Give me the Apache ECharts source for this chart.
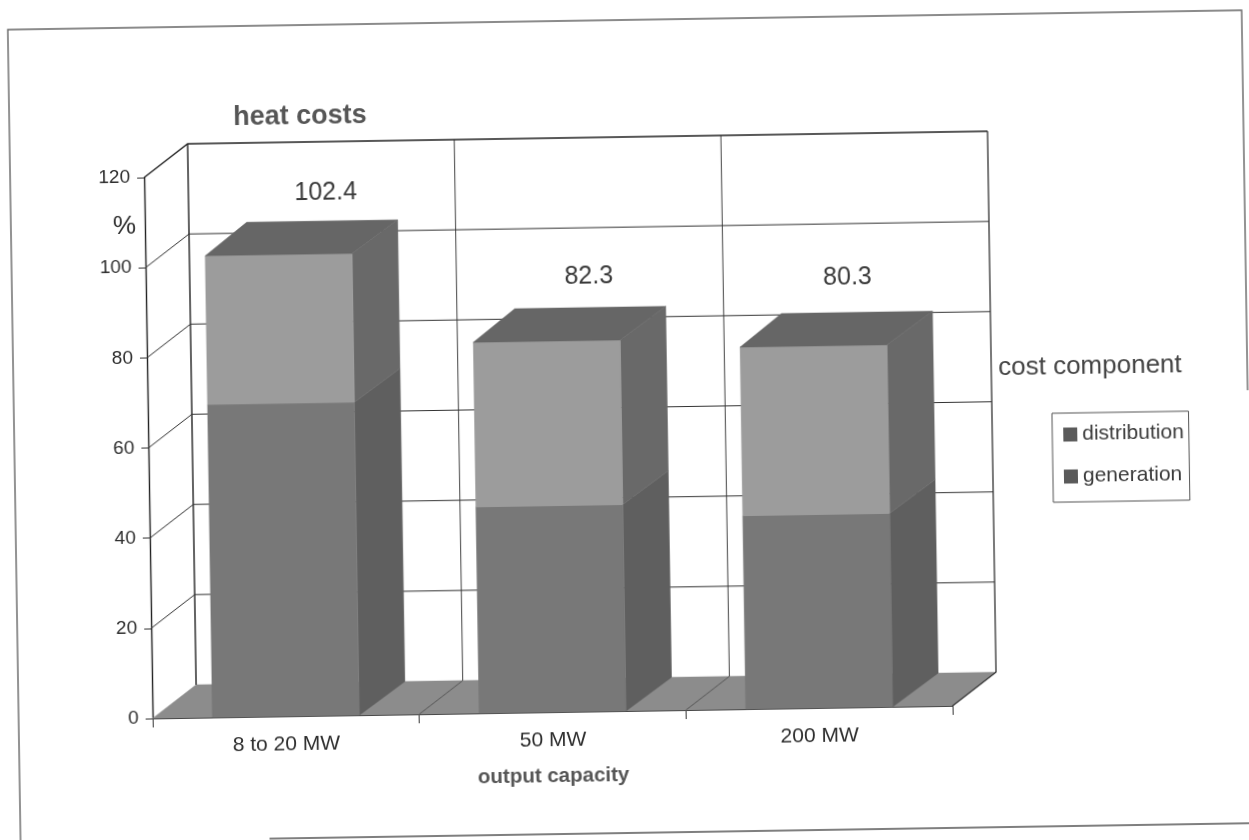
<!DOCTYPE html>
<html>
<head>
<meta charset="utf-8">
<title>heat costs</title>
<style>
html,body{margin:0;padding:0;background:#fff;width:1249px;height:840px;overflow:hidden}
#chart{position:absolute;left:0;top:0;width:1300px;height:900px;transform-origin:624.5px 420px;transform:rotate(-0.9deg)}
</style>
<script src="https://cdn.jsdelivr.net/npm/echarts@6/dist/echarts.min.js"></script>
</head>
<body>
<div id="chart"></div>
<script>
const categories = ['8 to 20 MW', '50 MW', '200 MW'];
const generation = [69.4, 45.8, 42.9];
const distribution = [33.0, 36.5, 37.4];
const totals = ['102.4', '82.3', '80.3'];
const yTicks = [0, 20, 40, 60, 80, 100, 120];

const DX = 44, DY = -33, BAR_DX = 46;
const LABEL_SHIFT_X = [48, 43, 35];
const LABEL_SHIFT_Y = [-61, -64, -68];
const FONT = '"Liberation Sans", Arial, sans-serif';
const INK = '#2e2e2e';
const GREY = '#565656';
const COLORS = {
  generation: { front: '#787878', side: '#5f5f5f' },
  distribution: { front: '#9c9c9c', side: '#696969', top: '#666666' },
  floor: '#8c8c8c', legendIcon: '#5a5a5a'
};

function poly(points, fill) {
  return { type: 'polygon', shape: { points: points }, style: { fill: fill, stroke: fill, lineWidth: 0.5 } };
}
function line(p, stroke, w) {
  return { type: 'polyline', shape: { points: p }, style: { fill: 'none', stroke: stroke, lineWidth: w } };
}

function renderGrid(params, api) {
  const v = api.value(0);
  const cs = params.coordSys;
  const y = api.coord([0, v])[1];
  if (v === 0) return { type: 'group', children: [] };
  return line([[cs.x, y], [cs.x + DX, y + DY], [cs.x + cs.width + DX, y + DY]], v === 120 ? '#222' : '#333', v === 120 ? 1.4 : 1);
}

function renderFloor(params, api) {
  const cs = params.coordSys;
  const i = api.value(0);
  const band = cs.width / categories.length;
  const x0 = cs.x + band * i, x1 = x0 + band;
  const y0 = cs.y + cs.height;
  const top = cs.y;
  const kids = [
    poly([[x0, y0], [x1, y0], [x1 + DX, y0 + DY], [x0 + DX, y0 + DY]], COLORS.floor),
    line([[x0 + DX, y0 + DY], [x0 + DX, top + DY]], i === 0 ? '#222' : '#444', i === 0 ? 1.4 : 1)
  ];
  if (i > 0) kids.push(line([[x0, y0], [x0 + DX, y0 + DY]], '#555', 1));
  if (i === categories.length - 1) {
    kids.push(line([[x1 + DX, top + DY], [x1 + DX, y0 + DY], [x1, y0]], '#333', 1.3));
  }
  return { type: 'group', children: kids };
}

function renderBar(key) {
  return function (params, api) {
    const i = api.value(0);
    const start = api.coord([i, api.value(1)]);
    const end = api.coord([i, api.value(2)]);
    const w = api.size([1, 0])[0] * 0.551;
    const l = start[0] - w / 2, r = start[0] + w / 2;
    const yb = start[1], yt = end[1];
    const c = COLORS[key];
    const kids = [
      poly([[r, yb], [r + BAR_DX, yb + DY], [r + BAR_DX, yt + DY], [r, yt]], c.side),
      poly([[l, yb], [r, yb], [r, yt], [l, yt]], c.front)
    ];
    if (key === 'distribution') {
      kids.push(poly([[l, yt], [r, yt], [r + BAR_DX, yt + DY], [l + BAR_DX - 4, yt + DY]], c.top));
      kids.push({
        type: 'text',
        style: {
          text: totals[i], x: start[0] + LABEL_SHIFT_X[i], y: yt + LABEL_SHIFT_Y[i],
          textAlign: 'center', textVerticalAlign: 'middle',
          font: '25px ' + FONT, fill: '#3a3a3a'
        }
      });
    }
    return { type: 'group', children: kids };
  };
}

function barRows(base, values) {
  return values.map(function (v, i) { return [i, base[i], +(base[i] + v).toFixed(1)]; });
}

const chart = echarts.init(document.getElementById('chart'), null, { renderer: 'canvas' });
chart.setOption({
  animation: false,
  backgroundColor: '#fff',
  title: [
    { text: 'heat costs', left: 238, top: 98, padding: 0, textStyle: { fontFamily: FONT, fontSize: 27, fontWeight: 'bold', color: GREY } },
    { text: 'cost component', left: 999, top: 361, padding: 0, textStyle: { fontFamily: FONT, fontSize: 26, fontWeight: 'normal', color: '#444' } },
    { text: '%', left: 116, top: 206, padding: 0, textStyle: { fontFamily: FONT, fontSize: 26, fontWeight: 'normal', color: INK } }
  ],
  grid: { left: 148, top: 170, width: 800, height: 541 },
  legend: {
    left: 1052, top: 420, orient: 'vertical', align: 'left',
    data: [
      { name: 'distribution', itemStyle: { color: COLORS.legendIcon } },
      { name: 'generation', itemStyle: { color: COLORS.legendIcon } }
    ],
    icon: 'rect', itemWidth: 14, itemHeight: 14, itemGap: 21,
    padding: [11, 5, 15, 11],
    borderColor: '#555', borderWidth: 1,
    textStyle: { fontFamily: FONT, fontSize: 21, color: '#3a3a3a' }
  },
  xAxis: {
    type: 'category', data: categories,
    axisLine: { lineStyle: { color: '#333', width: 1 } },
    axisTick: { show: true, length: 9, lineStyle: { color: '#333' } },
    axisLabel: { margin: 18, fontFamily: FONT, fontSize: 21, color: INK },
    name: 'output capacity', nameLocation: 'middle', nameGap: 54,
    nameTextStyle: { fontFamily: FONT, fontSize: 20.5, fontWeight: 'bold', color: GREY }
  },
  yAxis: {
    type: 'value', min: 0, max: 120, interval: 20,
    axisLine: { show: true, lineStyle: { color: '#222', width: 1.4 } },
    axisTick: { show: true, length: 7, lineStyle: { color: '#333' } },
    axisLabel: { margin: 14, fontFamily: FONT, fontSize: 19, color: INK },
    splitLine: { show: false }
  },
  series: [
    { type: 'custom', name: 'floor', z: 1, silent: true, data: categories.map(function (c, i) { return [i]; }), encode: { x: 0 }, renderItem: renderFloor },
    { type: 'custom', name: 'grid', z: 2, silent: true, data: yTicks.map(function (t) { return [t]; }), encode: { y: 0 }, renderItem: renderGrid },
    { type: 'custom', name: 'generation', z: 3, itemStyle: { color: COLORS.generation.front },
      data: barRows(categories.map(function () { return 0; }), generation), encode: { x: 0, y: [1, 2] }, renderItem: renderBar('generation') },
    { type: 'custom', name: 'distribution', z: 3, itemStyle: { color: COLORS.distribution.front },
      data: barRows(generation, distribution), encode: { x: 0, y: [1, 2] }, renderItem: renderBar('distribution') }
  ],
  graphic: [
    { type: 'polyline', silent: true, z: 10, shape: { points: [[14, 900], [14, 20], [1248, 20], [1248, 400]] }, style: { fill: 'none', stroke: '#666', lineWidth: 1.4 } },
    { type: 'line', silent: true, z: 10, shape: { x1: 263, y1: 833, x2: 1300, y2: 833 }, style: { stroke: '#555', lineWidth: 1.4 } }
  ]
});
</script>
</body>
</html>
